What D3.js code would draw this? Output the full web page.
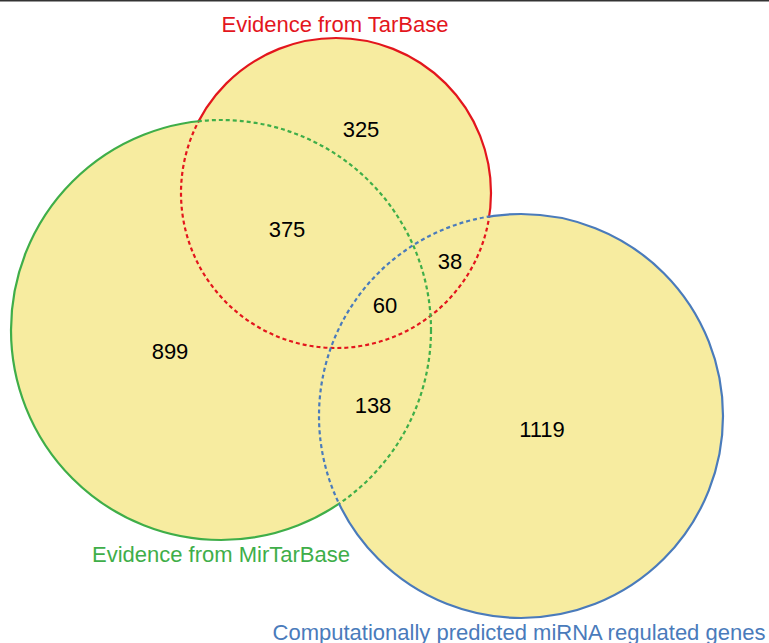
<!DOCTYPE html>
<html><head><meta charset="utf-8">
<script src="https://cdn.jsdelivr.net/npm/d3@7"></script>
<style>body{margin:0;background:#fff}svg{display:block}</style>
</head><body>
<script>
// Data
const setNames = ["Evidence from TarBase", "Evidence from MirTarBase", "Computationally predicted miRNA regulated genes"];
const setColors = ["#e3161d", "#3fae49", "#4a7bbb"];
const regionLabels = ["325", "375", "899", "38", "60", "138", "1119"];
// region membership: which sets each count belongs to
const regionSets = [[0], [0,1], [1], [0,2], [0,1,2], [1,2], [2]];

const W = 769, H = 643;
const svg = d3.select("body").append("svg").attr("width", W).attr("height", H);

const x = d3.scaleLinear().domain([0, 769]).range([0, W]);
const y = d3.scaleLinear().domain([0, 643]).range([0, H]);
const circles = [
  {cx: 336, cy: 193, r: 155},
  {cx: 221, cy: 330, r: 210},
  {cx: 521, cy: 416, r: 202}
];
const labelPos = [[361,129],[287,229],[170,351],[450,261],[385,305],[373,405],[542,429]];
const titlePos = [[335,24],[221,554],[519,632]];

svg.append("rect").attr("x",0).attr("y",0).attr("width",W).attr("height",1.5).attr("fill","#333");

const defs = svg.append("defs");
circles.forEach((c, i) => {
  const mo = defs.append("mask").attr("id","out"+i).attr("maskUnits","userSpaceOnUse")
    .attr("x",0).attr("y",0).attr("width",W).attr("height",H);
  mo.append("rect").attr("width",W).attr("height",H).attr("fill","white");
  const mi = defs.append("mask").attr("id","in"+i).attr("maskUnits","userSpaceOnUse")
    .attr("x",0).attr("y",0).attr("width",W).attr("height",H);
  circles.forEach((o, j) => {
    if (j === i) return;
    mo.append("circle").attr("cx",x(o.cx)).attr("cy",y(o.cy)).attr("r",o.r).attr("fill","black");
    mi.append("circle").attr("cx",x(o.cx)).attr("cy",y(o.cy)).attr("r",o.r).attr("fill","white");
  });
});

svg.selectAll("circle.fill").data(circles).join("circle").attr("class","fill")
  .attr("cx", d => x(d.cx)).attr("cy", d => y(d.cy)).attr("r", d => d.r)
  .attr("fill", "#f7eca0");

circles.forEach((c, i) => {
  svg.append("circle").attr("cx",x(c.cx)).attr("cy",y(c.cy)).attr("r",c.r)
    .attr("fill","none").attr("stroke",setColors[i]).attr("stroke-width",2.2)
    .attr("stroke-dasharray","4,3").attr("mask","url(#in"+i+")");
  svg.append("circle").attr("cx",x(c.cx)).attr("cy",y(c.cy)).attr("r",c.r)
    .attr("fill","none").attr("stroke",setColors[i]).attr("stroke-width",2.2)
    .attr("mask","url(#out"+i+")");
});

svg.selectAll("text.count").data(regionLabels).join("text").attr("class","count")
  .attr("x", (d,i) => x(labelPos[i][0])).attr("y", (d,i) => y(labelPos[i][1]))
  .attr("text-anchor","middle").attr("dominant-baseline","central")
  .attr("font-family","Liberation Sans, Arial, sans-serif").attr("font-size",22)
  .attr("fill","#000").text(d => d);

svg.selectAll("text.title").data(setNames).join("text").attr("class","title")
  .attr("x", (d,i) => x(titlePos[i][0])).attr("y", (d,i) => y(titlePos[i][1]))
  .attr("text-anchor","middle").attr("dominant-baseline","central")
  .attr("font-family","Liberation Sans, Arial, sans-serif").attr("font-size",22)
  .attr("fill", (d,i) => setColors[i]).text(d => d);
</script>
</body></html>
